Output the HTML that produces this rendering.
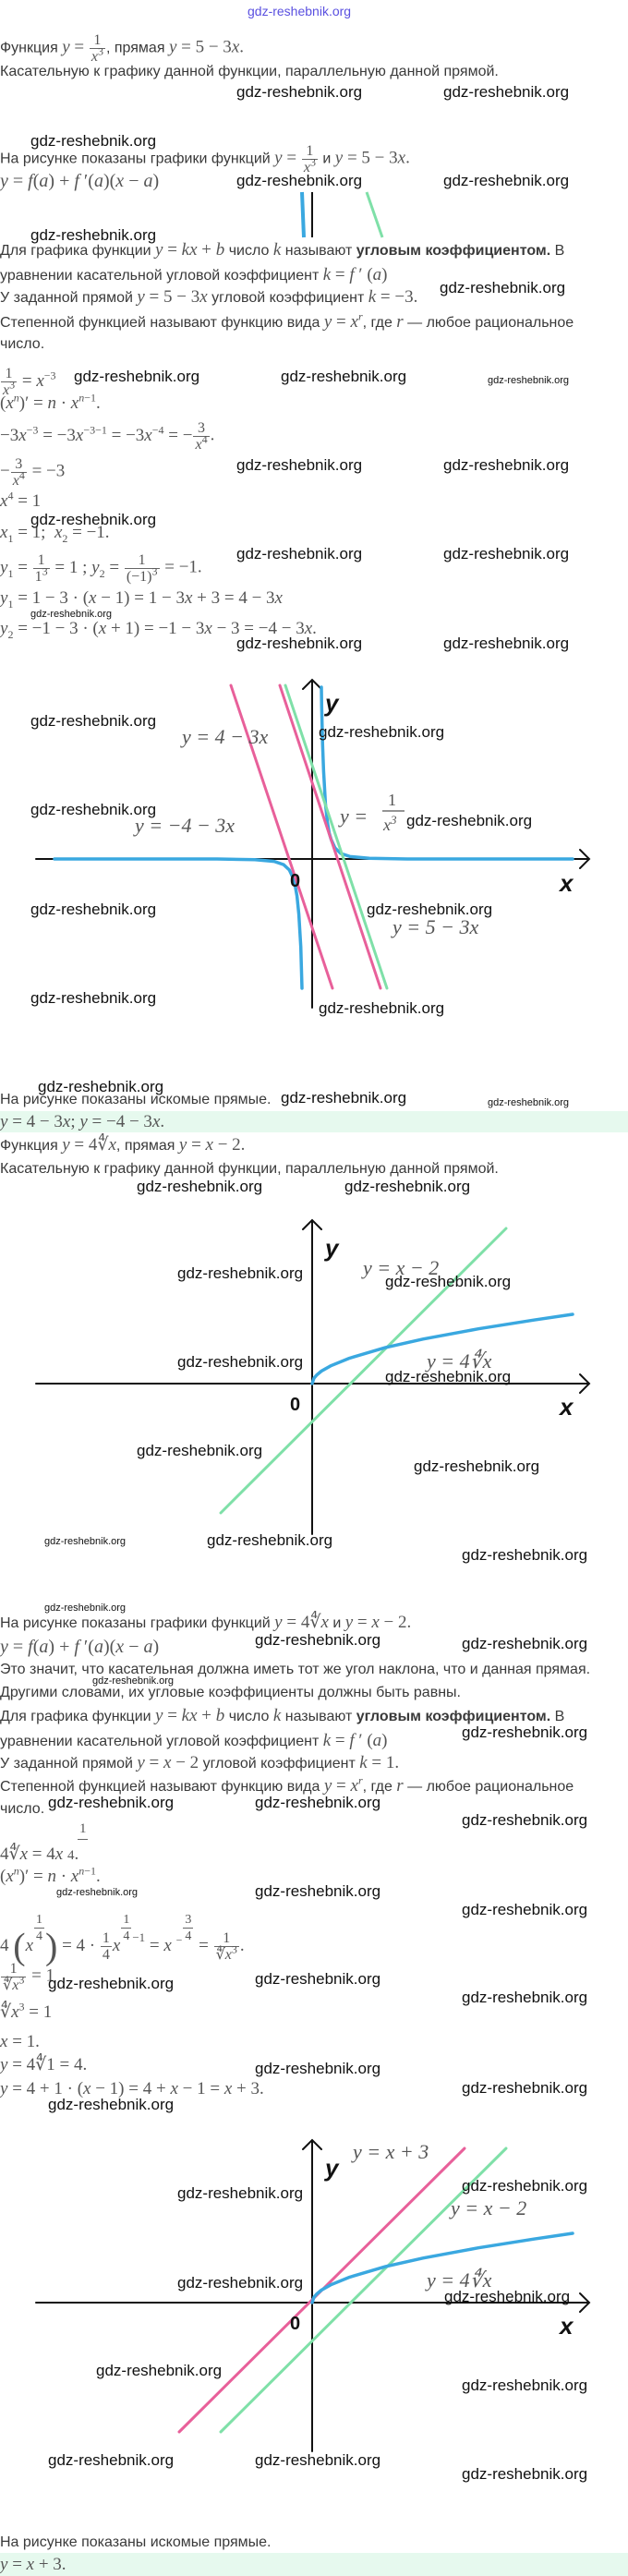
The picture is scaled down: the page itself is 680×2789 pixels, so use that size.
<!DOCTYPE html>
<html><head><meta charset="utf-8"><style>
body{margin:0;width:680px;height:2789px;position:relative;background:#fff;overflow:hidden}
.l{position:absolute;left:0;line-height:20px;white-space:nowrap;font-family:"Liberation Sans",sans-serif;font-size:16px;color:#3a3a3a}
.m{font-family:"Liberation Serif",serif;font-size:19px;color:#555}
.f{display:inline-block;vertical-align:middle;text-align:center;line-height:17px;font-size:16px;font-family:"Liberation Serif",serif;color:#555;margin:0 1px}
.f>span{display:block;padding:0 2px}
.f>span+span{border-top:1px solid #666}
sup,sub{font-size:12px;line-height:0}
.w{position:absolute;font-family:"Liberation Sans",sans-serif;font-size:17px;color:#111;line-height:20px;white-space:nowrap}
.ws{font-size:11px}
.band{position:absolute;left:0;width:680px;background:#e6f9ee}
svg{position:absolute;left:0;top:0}
</style></head><body>
<div class="band" style="top:1203px;height:23px"></div>
<div class="band" style="top:2764px;height:25px"></div>

<svg width="680" height="2789" viewBox="0 0 680 2789">
<defs><style>.lb{font-family:"Liberation Serif",serif;font-style:italic;font-size:22px;fill:#555}.ax{font-family:"Liberation Sans",sans-serif;font-weight:bold;font-style:italic;font-size:26px;fill:#111}.o{font-family:"Liberation Sans",sans-serif;font-weight:bold;font-size:20px;fill:#111}</style></defs>
<line x1="327" y1="208" x2="329" y2="257" stroke="#3aa8e0" stroke-width="4"/>
<line x1="338" y1="208" x2="338" y2="257" stroke="#111" stroke-width="2"/>
<line x1="397" y1="208" x2="414" y2="257" stroke="#7fe0a8" stroke-width="3"/>
<g fill="none" stroke-linecap="round">
<path d="M39 930H638M628 920L638 930L628 940M338 1091V736M328 746L338 736L348 746" stroke="#111" stroke-width="2"/>
<path d="M348 744L348.3 765L349.3 806L350.4 835L352.4 870L354.5 890L356.5 902L358.6 909L362.7 918L368.9 924L379.2 927.4L399.8 929.2L441 930L620 930" stroke="#3aa8e0" stroke-width="3.5"/>
<path d="M59 930L235 930L276 930.8L296.8 932.6L307.1 936.1L313.3 941.9L317.4 950.6L319.5 958.3L321.6 970.2L323.6 990L325.7 1025L327 1070" stroke="#3aa8e0" stroke-width="3.5"/>
<line x1="250" y1="742" x2="360" y2="1070" stroke="#e8609a" stroke-width="3"/>
<line x1="309" y1="742" x2="419" y2="1070" stroke="#7fe0a8" stroke-width="3"/>
<line x1="303" y1="742" x2="412" y2="1070" stroke="#e8609a" stroke-width="3"/>
</g>
<text class="lb" x="197" y="805">y = 4 − 3x</text>
<text class="lb" x="146" y="901">y = −4 − 3x</text>
<text class="lb" x="368" y="891">y =</text>
<text class="lb" x="420" y="872" style="font-style:normal;font-size:18px">1</text>
<line x1="414" y1="878" x2="438" y2="878" stroke="#555" stroke-width="1.2"/>
<text class="lb" x="415" y="899" style="font-size:18px">x<tspan dy="-7" font-size="13">3</tspan></text>
<text class="lb" x="425" y="1011">y = 5 − 3x</text>
<text class="ax" x="352" y="770">y</text>
<text class="ax" x="606" y="965">x</text>
<text class="o" x="314" y="960">0</text>
<g fill="none" stroke-linecap="round">
<path d="M39 1498H638M628 1488L638 1498L628 1508M338 1661V1321M328 1331L338 1321L348 1331" stroke="#111" stroke-width="2"/>
<line x1="239" y1="1638" x2="548" y2="1330" stroke="#7fe0a8" stroke-width="3"/>
<path d="M338 1498L340 1492.1L343 1488.6L348 1484.5L358 1478.8L378 1470.6L417 1459.1L458 1449.8L518 1438.7L578 1429.2L620 1423" stroke="#3aa8e0" stroke-width="3.5"/>
</g>
<text class="lb" x="393" y="1380">y = x − 2</text>
<text class="lb" x="462" y="1481">y = 4∜x</text>
<text class="ax" x="352" y="1360">y</text>
<text class="ax" x="606" y="1532">x</text>
<text class="o" x="314" y="1527">0</text>
<g fill="none" stroke-linecap="round">
<path d="M39 2493H638M628 2483L638 2493L628 2503M338 2654V2317M328 2327L338 2317L348 2327" stroke="#111" stroke-width="2"/>
<line x1="239" y1="2633" x2="548" y2="2326" stroke="#7fe0a8" stroke-width="3"/>
<line x1="194" y1="2633" x2="503" y2="2326" stroke="#e8609a" stroke-width="3"/>
<path d="M338 2493L340 2487.1L343 2483.6L348 2479.5L358 2473.8L378 2465.6L417 2454.1L458 2444.8L518 2433.7L578 2424.2L620 2418" stroke="#3aa8e0" stroke-width="3.5"/>
</g>
<text class="lb" x="382" y="2337">y = x + 3</text>
<text class="lb" x="488" y="2398">y = x − 2</text>
<text class="lb" x="462" y="2476">y = 4∜x</text>
<text class="ax" x="352" y="2356">y</text>
<text class="ax" x="606" y="2527">x</text>
<text class="o" x="314" y="2522">0</text>
</svg>

<div class="w" style="left:268px;top:2px;font-size:14px;color:#5a50e0">gdz-reshebnik.org</div>

<div class="l" style="top:35px">Функция <span class="m"><i>y</i> = </span><span class="f"><span>1</span><span><i>x</i><sup>3</sup></span></span>, прямая <span class="m"><i>y</i> = 5 − 3<i>x</i>.</span></div>
<div class="l" style="top:68px">Касательную к графику данной функции, параллельную данной прямой.</div>
<div class="l" style="top:155px">На рисунке показаны графики функций <span class="m"><i>y</i> = </span><span class="f"><span>1</span><span><i>x</i><sup>3</sup></span></span> и <span class="m"><i>y</i> = 5 − 3<i>x</i>.</span></div>
<div class="l" style="top:186px"><span class="m" style="font-size:20px"><i>y</i> = <i>f</i>(<i>a</i>) + <i>f</i> ′(<i>a</i>)(<i>x</i> − <i>a</i>)</span></div>
<div class="l" style="top:261px">Для графика функции <span class="m"><i>y</i> = <i>kx</i> + <i>b</i></span> число <span class="m"><i>k</i></span> называют <b>угловым коэффициентом.</b> В</div>
<div class="l" style="top:288px">уравнении касательной угловой коэффициент <span class="m"><i>k</i> = <i>f</i> ′ (<i>a</i>)</span></div>
<div class="l" style="top:312px">У заданной прямой <span class="m"><i>y</i> = 5 − 3<i>x</i></span> угловой коэффициент <span class="m"><i>k</i> = −3.</span></div>
<div class="l" style="top:339px">Степенной функцией называют функцию вида <span class="m"><i>y</i> = <i>x</i><sup><i>r</i></sup></span>, где <span class="m"><i>r</i></span> — любое рациональное</div>
<div class="l" style="top:363px">число.</div>
<div class="l" style="top:396px"><span class="f"><span>1</span><span><i>x</i><sup>3</sup></span></span><span class="m"> = <i>x</i><sup>−3</sup></span></div>
<div class="l" style="top:427px"><span class="m">(<i>x</i><sup><i>n</i></sup>)′ = <i>n</i> · <i>x</i><sup><i>n</i>−1</sup>.</span></div>
<div class="l" style="top:455px"><span class="m">−3<i>x</i><sup>−3</sup> = −3<i>x</i><sup>−3−1</sup> = −3<i>x</i><sup>−4</sup> = −</span><span class="f"><span>3</span><span><i>x</i><sup>4</sup></span></span><span class="m">.</span></div>
<div class="l" style="top:494px"><span class="m">−</span><span class="f"><span>3</span><span><i>x</i><sup>4</sup></span></span><span class="m"> = −3</span></div>
<div class="l" style="top:533px"><span class="m"><i>x</i><sup>4</sup> = 1</span></div>
<div class="l" style="top:567px"><span class="m"><i>x</i><sub>1</sub> = 1;&nbsp; <i>x</i><sub>2</sub> = −1.</span></div>
<div class="l" style="top:598px"><span class="m"><i>y</i><sub>1</sub> = </span><span class="f"><span>1</span><span>1<sup>3</sup></span></span><span class="m"> = 1 ; <i>y</i><sub>2</sub> = </span><span class="f"><span>1</span><span>(−1)<sup>3</sup></span></span><span class="m"> = −1.</span></div>
<div class="l" style="top:638px"><span class="m"><i>y</i><sub>1</sub> = 1 − 3 · (<i>x</i> − 1) = 1 − 3<i>x</i> + 3 = 4 − 3<i>x</i></span></div>
<div class="l" style="top:671px"><span class="m"><i>y</i><sub>2</sub> = −1 − 3 · (<i>x</i> + 1) = −1 − 3<i>x</i> − 3 = −4 − 3<i>x</i>.</span></div>

<div class="l" style="top:1181px">На рисунке показаны искомые прямые.</div>
<div class="l" style="top:1205px"><span class="m"><i>y</i> = 4 − 3<i>x</i>; <i>y</i> = −4 − 3<i>x</i>.</span></div>
<div class="l" style="top:1230px">Функция <span class="m"><i>y</i> = 4∜<i>x</i></span>, прямая <span class="m"><i>y</i> = <i>x</i> − 2.</span></div>
<div class="l" style="top:1256px">Касательную к графику данной функции, параллельную данной прямой.</div>

<div class="l" style="top:1747px">На рисунке показаны графики функций <span class="m"><i>y</i> = 4∜<i>x</i></span> и <span class="m"><i>y</i> = <i>x</i> − 2.</span></div>
<div class="l" style="top:1773px"><span class="m" style="font-size:20px"><i>y</i> = <i>f</i>(<i>a</i>) + <i>f</i> ′(<i>a</i>)(<i>x</i> − <i>a</i>)</span></div>
<div class="l" style="top:1798px">Это значит, что касательная должна иметь тот же угол наклона, что и данная прямая.</div>
<div class="l" style="top:1823px">Другими словами, их угловые коэффициенты должны быть равны.</div>
<div class="l" style="top:1848px">Для графика функции <span class="m"><i>y</i> = <i>kx</i> + <i>b</i></span> число <span class="m"><i>k</i></span> называют <b>угловым коэффициентом.</b> В</div>
<div class="l" style="top:1875px">уравнении касательной угловой коэффициент <span class="m"><i>k</i> = <i>f</i> ′ (<i>a</i>)</span></div>
<div class="l" style="top:1899px">У заданной прямой <span class="m"><i>y</i> = <i>x</i> − 2</span> угловой коэффициент <span class="m"><i>k</i> = 1.</span></div>
<div class="l" style="top:1924px">Степенной функцией называют функцию вида <span class="m"><i>y</i> = <i>x</i><sup><i>r</i></sup></span>, где <span class="m"><i>r</i></span> — любое рациональное</div>
<div class="l" style="top:1949px">число.</div>
<div class="l" style="top:1970px;left:86px"><span class="m" style="font-size:15px">1</span></div>
<div style="position:absolute;left:84px;top:1991px;width:11px;border-top:1px solid #666"></div>
<div class="l" style="top:1998px"><span class="m">4∜<i>x</i> = 4<i>x</i> <span style="font-size:15px">4</span>.</span></div>
<div class="l" style="top:2022px"><span class="m">(<i>x</i><sup><i>n</i></sup>)′ = <i>n</i> · <i>x</i><sup><i>n</i>−1</sup>.</span></div>
<div class="l" style="top:2070px"><span class="m">4 <span style="font-size:40px;vertical-align:middle">(</span><i>x</i></span><span class="f" style="vertical-align:12px;font-size:14px"><span>1</span><span>4</span></span><span class="m"><span style="font-size:40px;vertical-align:middle">)</span> = 4 · </span><span class="f"><span>1</span><span>4</span></span><span class="m"><i>x</i></span><span class="f" style="vertical-align:12px;font-size:14px"><span>1</span><span>4</span></span><span class="m" style="vertical-align:10px;font-size:13px">−1</span><span class="m"> = <i>x</i> <sup>−</sup></span><span class="f" style="vertical-align:12px;font-size:14px"><span>3</span><span>4</span></span><span class="m"> = </span><span class="f"><span>1</span><span>∜<i>x</i><sup>3</sup></span></span><span class="m">.</span></div>
<div class="l" style="top:2123px"><span class="f"><span>1</span><span>∜<i>x</i><sup>3</sup></span></span><span class="m"> = 1</span></div>
<div class="l" style="top:2169px"><span class="m">∜<i>x</i><sup>3</sup> = 1</span></div>
<div class="l" style="top:2201px"><span class="m"><i>x</i> = 1.</span></div>
<div class="l" style="top:2226px"><span class="m"><i>y</i> = 4∜1 = 4.</span></div>
<div class="l" style="top:2252px"><span class="m"><i>y</i> = 4 + 1 · (<i>x</i> − 1) = 4 + <i>x</i> − 1 = <i>x</i> + 3.</span></div>
<div class="l" style="top:2743px">На рисунке показаны искомые прямые.</div>
<div class="l" style="top:2767px"><span class="m"><i>y</i> = <i>x</i> + 3.</span></div>

<div class="w" style="left:256px;top:90px">gdz-reshebnik.org</div>
<div class="w" style="left:480px;top:90px">gdz-reshebnik.org</div>
<div class="w" style="left:33px;top:143px">gdz-reshebnik.org</div>
<div class="w" style="left:256px;top:186px">gdz-reshebnik.org</div>
<div class="w" style="left:480px;top:186px">gdz-reshebnik.org</div>
<div class="w" style="left:33px;top:245px">gdz-reshebnik.org</div>
<div class="w" style="left:476px;top:302px">gdz-reshebnik.org</div>
<div class="w" style="left:80px;top:398px">gdz-reshebnik.org</div>
<div class="w" style="left:304px;top:398px">gdz-reshebnik.org</div>
<div class="w ws" style="left:528px;top:402px">gdz-reshebnik.org</div>
<div class="w" style="left:256px;top:494px">gdz-reshebnik.org</div>
<div class="w" style="left:480px;top:494px">gdz-reshebnik.org</div>
<div class="w" style="left:33px;top:553px">gdz-reshebnik.org</div>
<div class="w" style="left:256px;top:590px">gdz-reshebnik.org</div>
<div class="w" style="left:480px;top:590px">gdz-reshebnik.org</div>
<div class="w ws" style="left:33px;top:655px">gdz-reshebnik.org</div>
<div class="w" style="left:256px;top:687px">gdz-reshebnik.org</div>
<div class="w" style="left:480px;top:687px">gdz-reshebnik.org</div>
<div class="w" style="left:33px;top:771px">gdz-reshebnik.org</div>
<div class="w" style="left:345px;top:783px">gdz-reshebnik.org</div>
<div class="w" style="left:33px;top:867px">gdz-reshebnik.org</div>
<div class="w" style="left:440px;top:879px">gdz-reshebnik.org</div>
<div class="w" style="left:33px;top:975px">gdz-reshebnik.org</div>
<div class="w" style="left:397px;top:975px">gdz-reshebnik.org</div>
<div class="w" style="left:33px;top:1071px">gdz-reshebnik.org</div>
<div class="w" style="left:345px;top:1082px">gdz-reshebnik.org</div>
<div class="w" style="left:41px;top:1167px">gdz-reshebnik.org</div>
<div class="w" style="left:304px;top:1179px">gdz-reshebnik.org</div>
<div class="w ws" style="left:528px;top:1184px">gdz-reshebnik.org</div>
<div class="w" style="left:148px;top:1275px">gdz-reshebnik.org</div>
<div class="w" style="left:373px;top:1275px">gdz-reshebnik.org</div>
<div class="w" style="left:192px;top:1369px">gdz-reshebnik.org</div>
<div class="w" style="left:417px;top:1378px">gdz-reshebnik.org</div>
<div class="w" style="left:192px;top:1465px">gdz-reshebnik.org</div>
<div class="w" style="left:417px;top:1481px">gdz-reshebnik.org</div>
<div class="w" style="left:148px;top:1561px">gdz-reshebnik.org</div>
<div class="w" style="left:448px;top:1578px">gdz-reshebnik.org</div>
<div class="w ws" style="left:48px;top:1659px">gdz-reshebnik.org</div>
<div class="w" style="left:224px;top:1658px">gdz-reshebnik.org</div>
<div class="w" style="left:500px;top:1674px">gdz-reshebnik.org</div>
<div class="w ws" style="left:48px;top:1731px">gdz-reshebnik.org</div>
<div class="w" style="left:276px;top:1766px">gdz-reshebnik.org</div>
<div class="w" style="left:500px;top:1770px">gdz-reshebnik.org</div>
<div class="w ws" style="left:100px;top:1810px">gdz-reshebnik.org</div>
<div class="w" style="left:500px;top:1866px">gdz-reshebnik.org</div>
<div class="w" style="left:52px;top:1942px">gdz-reshebnik.org</div>
<div class="w" style="left:276px;top:1942px">gdz-reshebnik.org</div>
<div class="w" style="left:500px;top:1961px">gdz-reshebnik.org</div>
<div class="w ws" style="left:61px;top:2039px">gdz-reshebnik.org</div>
<div class="w" style="left:276px;top:2038px">gdz-reshebnik.org</div>
<div class="w" style="left:500px;top:2058px">gdz-reshebnik.org</div>
<div class="w" style="left:52px;top:2138px">gdz-reshebnik.org</div>
<div class="w" style="left:276px;top:2133px">gdz-reshebnik.org</div>
<div class="w" style="left:500px;top:2153px">gdz-reshebnik.org</div>
<div class="w" style="left:276px;top:2230px">gdz-reshebnik.org</div>
<div class="w" style="left:500px;top:2251px">gdz-reshebnik.org</div>
<div class="w" style="left:52px;top:2269px">gdz-reshebnik.org</div>
<div class="w" style="left:192px;top:2365px">gdz-reshebnik.org</div>
<div class="w" style="left:500px;top:2357px">gdz-reshebnik.org</div>
<div class="w" style="left:192px;top:2462px">gdz-reshebnik.org</div>
<div class="w" style="left:481px;top:2477px">gdz-reshebnik.org</div>
<div class="w" style="left:104px;top:2557px">gdz-reshebnik.org</div>
<div class="w" style="left:500px;top:2573px">gdz-reshebnik.org</div>
<div class="w" style="left:52px;top:2654px">gdz-reshebnik.org</div>
<div class="w" style="left:276px;top:2654px">gdz-reshebnik.org</div>
<div class="w" style="left:500px;top:2669px">gdz-reshebnik.org</div>
</body></html>
